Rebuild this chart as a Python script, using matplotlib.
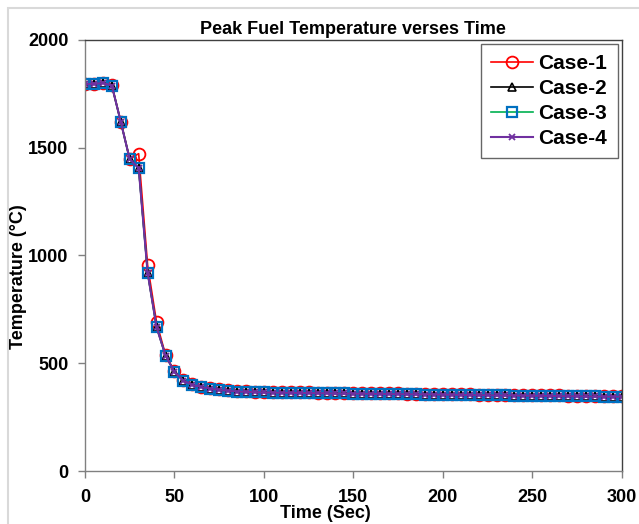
import numpy as np
import matplotlib.pyplot as plt
from matplotlib.patches import Rectangle

plt.rcParams['font.family'] = ['Liberation Sans', 'DejaVu Sans']

# time points (sec)
time = list(range(0, 305, 5))

# peak fuel temperature (deg C)
case_1 = [1795, 1795, 1800, 1790, 1620, 1448, 1472, 955, 690, 540,
          462, 422, 402, 392, 384, 379, 375, 372, 370, 369,
          368, 367, 366, 366, 365, 365, 364, 364, 363, 363,
          362, 362, 361, 361, 360, 360, 359, 359, 358, 358,
          357, 357, 356, 356, 355, 355, 354, 354, 353, 353,
          352, 352, 351, 351, 350, 350, 350, 349, 349, 348, 348]
case_2 = [1795, 1795, 1800, 1788, 1620, 1446, 1405, 920, 668, 536,
          460, 420, 400, 390, 382, 376, 372, 369, 367, 366,
          365, 364, 363, 363, 362, 362, 361, 361, 360, 360,
          359, 359, 358, 358, 357, 357, 356, 356, 355, 355,
          354, 354, 353, 353, 352, 352, 351, 351, 350, 350,
          349, 349, 348, 348, 347, 347, 346, 346, 345, 345, 345]
case_3 = list(case_2)
case_4 = list(case_2)

labels = ['Case-1', 'Case-2', 'Case-3', 'Case-4']

fig = plt.figure(figsize=(6.39, 5.24), dpi=100)
ax = fig.add_axes([0.133, 0.101, 0.840, 0.823])

# light outer chart frame
fig.patches.append(Rectangle((8 / 639, -0.1), 1.2, (524 - 8) / 524 + 0.1,
                             transform=fig.transFigure, fill=False,
                             edgecolor='#d9d9d9', linewidth=1.5))

ax.plot(time, case_1, color='red', lw=1.2, marker='o', ms=8.5,
        mfc='none', mec='red', mew=1.3, label=labels[0])
ax.plot(time, case_2, color='black', lw=1.2, marker='^', ms=5.5,
        mfc='none', mec='black', mew=1.2, label=labels[1])
ax.plot(time, case_3, color='#00b050', lw=1.2, marker='s', ms=7,
        mfc='none', mec='#0070c0', mew=1.6, label=labels[2])
ax.plot(time, case_4, color='#7030a0', lw=1.5, marker='x', ms=5,
        mec='#7030a0', mew=1.3, label=labels[3])

ax.set_xlim(0, 300)
ax.set_ylim(0, 2000)
ax.set_xticks(np.arange(0, 301, 50))
ax.set_yticks(np.arange(0, 2001, 500))
ax.tick_params(direction='out', length=5, width=1, color='#808080',
               labelsize=13)
ax.tick_params(axis='x', pad=8)
ax.tick_params(axis='y', pad=7)
for lab in ax.get_xticklabels() + ax.get_yticklabels():
    lab.set_fontweight('bold')
for s in ax.spines.values():
    s.set_color('#808080')
    s.set_linewidth(1)
ax.spines['top'].set_color('#404040')
ax.spines['right'].set_color('#404040')

ax.set_title('Peak Fuel Temperature verses Time', fontsize=13,
             fontweight='bold', pad=4)
ax.set_xlabel('Time (Sec)', fontsize=13, fontweight='bold')
ax.xaxis.set_label_coords(0.448, -0.078)
ax.set_ylabel('Temperature (°C)', fontsize=13, fontweight='bold')
ax.yaxis.set_label_coords(-0.108, 0.45)

leg = ax.legend(loc='upper right', frameon=True,
                fancybox=False, edgecolor='#404040', handlelength=2.0,
                handletextpad=0.25, borderpad=0.5, labelspacing=0.28,
                borderaxespad=0.2, prop={'weight': 'bold', 'size': 15})
leg.get_frame().set_linewidth(1)

fig.savefig('out.png', dpi=100)
